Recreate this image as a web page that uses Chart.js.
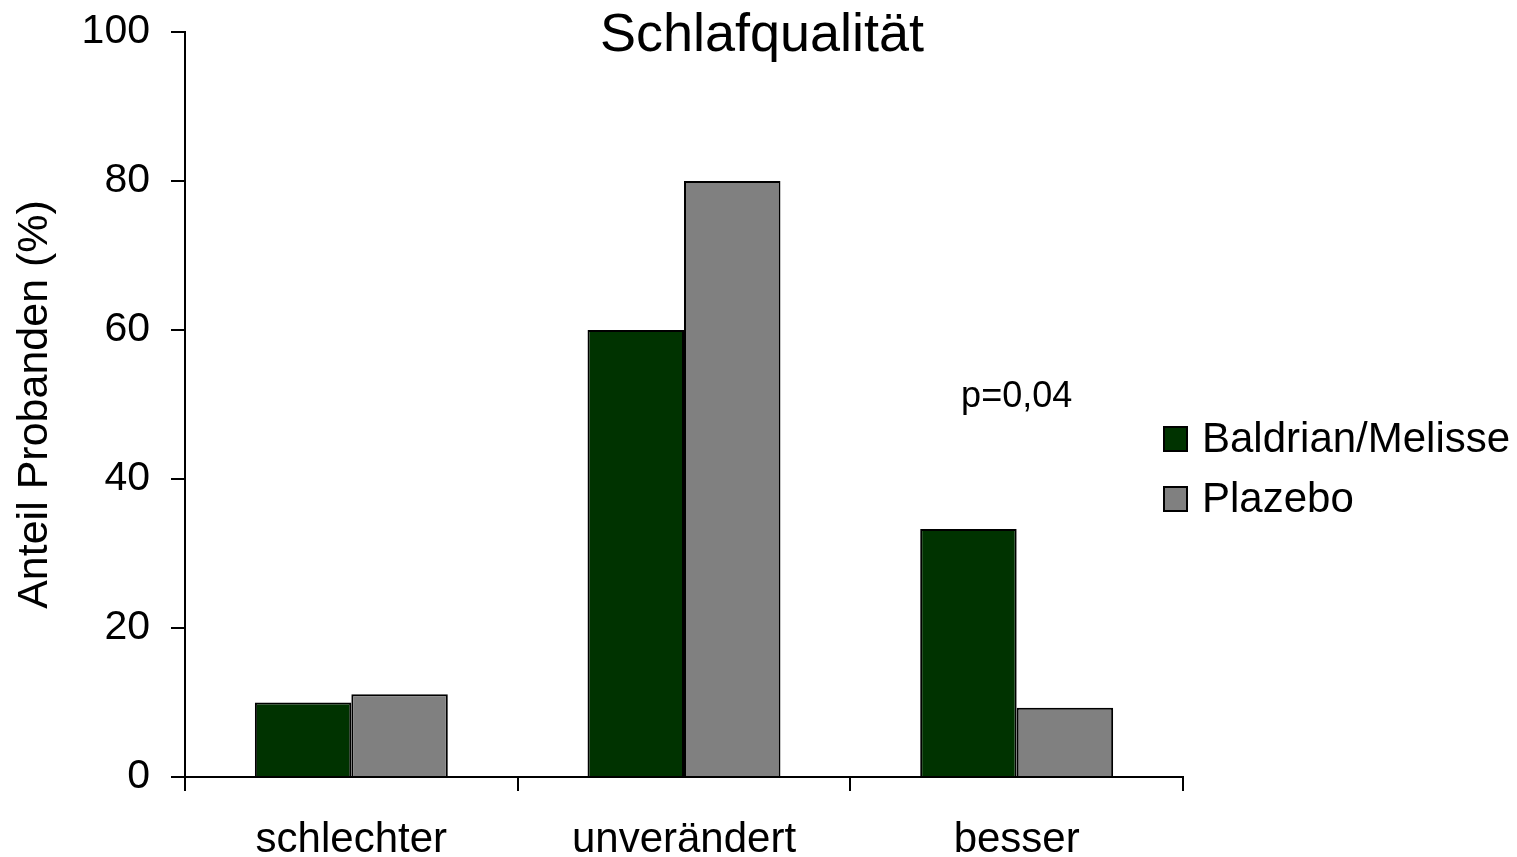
<!DOCTYPE html>
<html>
<head>
<meta charset="utf-8">
<script src="https://cdn.jsdelivr.net/npm/chart.js@4.4.1/dist/chart.umd.min.js"></script>
<style>
  html, body { margin: 0; padding: 0; background: #fff; }
  #wrap { width: 1517px; height: 857px; }
</style>
</head>
<body>
<div id="wrap"><canvas id="chart1"></canvas></div>
<script>
const categories = ['schlechter', 'unverändert', 'besser'];
const seriesNames = ['Baldrian/Melisse', 'Plazebo'];
const baldrian = [10, 60, 33.3];
const plazebo = [11.1, 80, 9.3];
const yTicks = [0, 20, 40, 60, 80, 100];
const pLabel = 'p=0,04';

const FONT = "'Liberation Sans', Arial, sans-serif";

// titel, legende und p-wert von hand zeichnen
const extras = {
    id: 'extras',
    afterDraw(chart) {
        const ctx = chart.ctx;
        const x = chart.scales.x, y = chart.scales.y;
        ctx.save();
        ctx.fillStyle = '#000';
        // titel
        ctx.font = '54px ' + FONT;
        ctx.textAlign = 'center';
        ctx.textBaseline = 'middle';
        ctx.fillText('Schlafqualität', 762, 36);
        // p-wert ueber "besser"
        ctx.font = '36px ' + FONT;
        ctx.fillText(pLabel, x.getPixelForValue(2), y.getPixelForValue(51));
        // legende
        ctx.font = '42px ' + FONT;
        ctx.textAlign = 'left';
        chart.data.datasets.forEach((ds, i) => {
            const cy = 439 + i * 60;
            ctx.fillStyle = ds.backgroundColor;
            ctx.fillRect(1164, cy - 12, 23, 24);
            ctx.lineWidth = 2;
            ctx.strokeStyle = '#000';
            ctx.strokeRect(1164, cy - 12, 23, 24);
            ctx.fillStyle = '#000';
            ctx.fillText(ds.label, 1202, cy + 1);
        });
        ctx.restore();
    }
};

const ctx1 = document.getElementById('chart1').getContext('2d');
const myChart1 = new Chart(ctx1, {
    type: 'bar',
    data: {
        labels: categories,
        datasets: [{
            label: seriesNames[0],
            data: baldrian,
            backgroundColor: '#003300',
            borderColor: '#000',
            borderWidth: 2
        }, {
            label: seriesNames[1],
            data: plazebo,
            backgroundColor: '#808080',
            borderColor: '#000',
            borderWidth: 2
        }]
    },
    options: {
        responsive: true,
        maintainAspectRatio: false,
        animation: false,
        layout: { padding: { top: 32, right: 334, left: 0, bottom: 0 } },
        datasets: { bar: { barPercentage: 1, categoryPercentage: 0.58 } },
        plugins: {
            legend: { display: false },
            tooltip: { enabled: false }
        },
        scales: {
            x: {
                grid: { drawOnChartArea: false, drawTicks: true, tickLength: 14, color: '#000', lineWidth: 2 },
                border: { color: '#000', width: 2 },
                ticks: { color: '#000', font: { family: FONT, size: 42 }, padding: 24, maxRotation: 0 },
                afterFit(scale) { scale.height = 80; scale.paddingLeft = 0; scale.paddingRight = 0; }
            },
            y: {
                min: 0,
                max: 100,
                afterBuildTicks(scale) { scale.ticks = yTicks.map(v => ({ value: v })); },
                grid: { drawOnChartArea: false, drawTicks: true, tickLength: 14, color: '#000', lineWidth: 2 },
                border: { color: '#000', width: 2 },
                ticks: { color: '#000', font: { family: FONT, size: 41 }, padding: 21 },
                title: {
                    display: true,
                    text: 'Anteil Probanden (%)',
                    color: '#000',
                    font: { family: FONT, size: 43 },
                    padding: { top: 9, bottom: 0 }
                },
                afterFit(scale) { scale.width = 185; scale.paddingTop = 0; scale.paddingBottom = 0; }
            }
        }
    },
    plugins: [extras]
});
</script>
</body>
</html>
